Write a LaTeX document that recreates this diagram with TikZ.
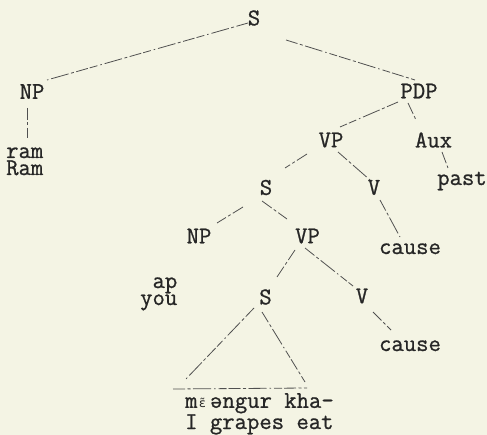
\documentclass[tikz,border=0pt]{standalone}
\usepackage{fontspec}
\setmonofont{Latin Modern Mono}[FakeBold=0.9]
\newfontfamily\ipafont{DejaVu Sans Mono}
\usetikzlibrary{calc}
\definecolor{paper}{HTML}{F4F4E4}
\definecolor{ink}{HTML}{262626}
\definecolor{pencil}{HTML}{505050}
\tikzset{
  lbl/.style={font=\ttfamily\fontsize{24}{17}\selectfont, text=ink, inner sep=0pt, align=left},
  branch/.style={draw=pencil, line width=0.8pt,
    dash pattern=on 12pt off 2.5pt on 3pt off 2.5pt on 18pt off 3pt on 1.5pt off 3pt on 8pt off 2pt},
}
% small nasal vowel squeezed into one typewriter cell
\newcommand{\nasalE}{\makebox[0.525em][l]{\hspace{0.05em}\ipafont\fontsize{12}{12}\selectfont ɛ̃}}
\begin{document}
\begin{tikzpicture}[x=1pt, y=-1pt]
  \fill[paper] (0,0) rectangle (487,435);
  \useasboundingbox (0,0) rectangle (487,435);

  % category labels
  \node[lbl] (S0)   at (254,18)    {S};
  \node[lbl] (NP1)  at (32,91.5)   {NP};
  \node[lbl] (PDP)  at (419,91)    {PDP};
  \node[lbl] (VP1)  at (331,140)   {VP};
  \node[lbl] (Aux)  at (433.5,140) {Aux};
  \node[lbl] (S1)   at (266,187.5) {S};
  \node[lbl] (V1)   at (374,187.5) {V};
  \node[lbl] (NP2)  at (199,236)   {NP};
  \node[lbl] (VP2)  at (307.5,236) {VP};
  \node[lbl] (S2)   at (265.5,297) {S};
  \node[lbl] (V2)   at (362,296)   {V};

  % words with glosses (two-line nodes sit on the baseline of their last line)
  \node[lbl, anchor=base west] (ram)    at (6,175)   {ram\\Ram};
  \node[lbl, anchor=base]      (past)   at (462,185) {past};
  \node[lbl, anchor=base]      (cause1) at (410,254) {cause};
  \node[lbl, anchor=base west] (ap)     at (140,305) {\hphantom{y}ap\\you};
  \node[lbl, anchor=base]      (cause2) at (410,351) {cause};
  \node[lbl, anchor=base west, font=\ttfamily\fontsize{24}{18}\selectfont] (leaves) at (185,429)
    {m\nasalE əngur kha-\\I grapes eat};

  % triangle corners over the embedded clause
  \coordinate (triL) at (173,389);
  \coordinate (triR) at (307,388);

  % branches
  \draw[branch] ([shift={(-6,5)}]S0.center) -- ([shift={(15,-11.5)}]NP1.center);
  \draw[branch] ([shift={(32,22)}]S0.center) -- ([shift={(-4,-11)}]PDP.center);
  \draw[branch] ([shift={(-4.3,16.5)}]NP1.center) -- ([shift={(21.7,-37)}]ram.base west);
  \draw[branch] ([shift={(-21,11)}]PDP.center) -- ([shift={(9,-13)}]VP1.center);
  \draw[branch] ([shift={(-11,12)}]PDP.center) -- ([shift={(-17.5,-20)}]Aux.center);
  \draw[branch] ([shift={(8.5,12)}]Aux.center) -- ([shift={(-14,-17)}]past.base);
  \draw[branch] ([shift={(7,12)}]VP1.center) -- ([shift={(-4,-7.5)}]V1.center);
  \draw[branch] ([shift={(6,12.5)}]V1.center) -- ([shift={(-10,-17)}]cause1.base);
  \draw[branch] ([shift={(-24,14)}]VP1.center) -- ([shift={(19,-19.5)}]S1.center);
  \draw[branch] ([shift={(-23,19.5)}]S1.center) -- ([shift={(18,-13)}]NP2.center);
  \draw[branch] ([shift={(-4,13.5)}]S1.center) -- ([shift={(-20.5,-17)}]VP2.center);
  \draw[branch] ([shift={(-12.5,14)}]VP2.center) -- ([shift={(11.5,-20)}]S2.center);
  \draw[branch] ([shift={(-2.5,12)}]VP2.center) -- ([shift={(-9,-10)}]V2.center);
  \draw[branch] ([shift={(11,16)}]V2.center) -- ([shift={(-19,-21)}]cause2.base);
  \draw[branch] ([shift={(-11.5,11)}]S2.center) -- ($(triL)+(12,-9)$);
  \draw[branch] ([shift={(-3.5,15)}]S2.center) -- ($(triR)+(-2,-6)$);
  \draw[branch] (triL) -- (triR);
\end{tikzpicture}
\end{document}
